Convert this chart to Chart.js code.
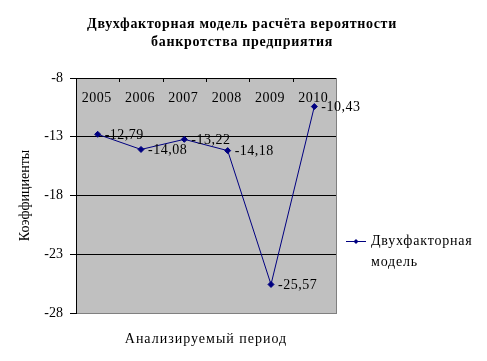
<!DOCTYPE html>
<html>
<head>
<meta charset="utf-8">
<script src="https://cdn.jsdelivr.net/npm/chart.js@4.4.1/dist/chart.umd.min.js"></script>
<style>
  html, body { margin: 0; padding: 0; background: #fff; }
  #wrap { width: 487px; height: 361px; }
</style>
</head>
<body>
<div id="wrap"><canvas id="myChart" width="487" height="361"></canvas></div>
<script>
const years = ['2005', '2006', '2007', '2008', '2009', '2010'];
const values = [-12.79, -14.08, -13.22, -14.18, -25.57, -10.43];
const yTicks = [-8, -13, -18, -23, -28];
const titleLines = ['Двухфакторная модель расчёта вероятности', 'банкротства предприятия'];
const seriesName = ['Двухфакторная', 'модель'];

const FONT = '"Liberation Serif", "Times New Roman", serif';
const NAVY = '#000080';

const extras = {
    id: 'extras',
    beforeDraw(chart) {
        const a = chart.chartArea;
        const ctx = chart.ctx;
        ctx.save();
        ctx.fillStyle = '#c0c0c0';
        ctx.fillRect(a.left, a.top, a.right - a.left, a.bottom - a.top);
        ctx.restore();
    },
    afterDraw(chart) {
        const a = chart.chartArea;
        const ctx = chart.ctx;
        const x = chart.scales.x;
        ctx.save();
        // right border
        ctx.strokeStyle = '#808080';
        ctx.lineWidth = 1;
        ctx.beginPath();
        ctx.moveTo(a.right + 0.5, a.top);
        ctx.lineTo(a.right + 0.5, a.bottom);
        ctx.stroke();
        // category axis at the top
        ctx.strokeStyle = '#000';
        ctx.beginPath();
        ctx.moveTo(a.left, a.top + 0.5);
        ctx.lineTo(a.right, a.top + 0.5);
        const step = (a.right - a.left) / years.length;
        for (let i = 1; i < years.length; i++) {
            const px = Math.round(a.left + i * step) + 0.5;
            ctx.moveTo(px, a.top);
            ctx.lineTo(px, a.top + 4);
        }
        ctx.stroke();
        ctx.fillStyle = '#000';
        ctx.font = '14px ' + FONT;
        ctx.letterSpacing = '0.5px';
        ctx.textAlign = 'center';
        ctx.textBaseline = 'middle';
        years.forEach((y, i) => {
            ctx.fillText(y, x.getPixelForValue(i) - 1, a.top + 20);
        });
        // data labels
        const meta = chart.getDatasetMeta(0);
        ctx.textAlign = 'left';
        meta.data.forEach((p, i) => {
            const t = values[i].toFixed(2).replace('.', ',');
            ctx.fillText(t, p.x + 7, p.y + 1);
        });
        // title
        ctx.font = 'bold 14px ' + FONT;
        ctx.letterSpacing = '0.7px';
        ctx.textAlign = 'center';
        ctx.fillText(titleLines[0], 242, 24);
        ctx.fillText(titleLines[1], 242, 42);
        // x axis title
        ctx.font = '14px ' + FONT;
        ctx.letterSpacing = '1px';
        ctx.fillText('Анализируемый период', (a.left + a.right) / 2, 339);
        // legend
        ctx.strokeStyle = NAVY;
        ctx.beginPath();
        ctx.moveTo(346, 241.5);
        ctx.lineTo(366, 241.5);
        ctx.stroke();
        ctx.fillStyle = NAVY;
        ctx.beginPath();
        ctx.moveTo(356, 239);
        ctx.lineTo(358.5, 241.5);
        ctx.lineTo(356, 244);
        ctx.lineTo(353.5, 241.5);
        ctx.closePath();
        ctx.fill();
        ctx.fillStyle = '#000';
        ctx.textAlign = 'left';
        ctx.letterSpacing = '0.8px';
        ctx.fillText(seriesName[0], 371, 241);
        ctx.fillText(seriesName[1], 371, 262);
        ctx.restore();
    }
};

const data = {
    labels: years,
    datasets: [{
        label: seriesName.join(' '),
        data: values,
        borderColor: NAVY,
        backgroundColor: NAVY,
        borderWidth: 1,
        pointStyle: 'rectRot',
        pointRadius: 3,
        pointHoverRadius: 3,
        tension: 0
    }]
};

const config = {
    type: 'line',
    data: data,
    plugins: [extras],
    options: {
        responsive: false,
        animation: false,
        events: [],
        layout: { padding: { top: 78, left: 0, right: 151, bottom: 0 } },
        plugins: {
            legend: { display: false },
            tooltip: { enabled: false },
            title: { display: false }
        },
        scales: {
            x: {
                type: 'category',
                offset: true,
                grid: { display: false, drawTicks: false },
                border: { color: '#808080' },
                ticks: { display: false },
                afterFit(scale) { scale.height = 48; }
            },
            y: {
                min: -28,
                max: -8,
                afterBuildTicks(scale) { scale.ticks = yTicks.map(v => ({ value: v })); },
                grid: {
                    color: ctx => (ctx.tick && ctx.tick.value === -28) ? 'rgba(0,0,0,0)' : '#000',
                    tickColor: '#000',
                    tickLength: 6,
                    lineWidth: 1
                },
                border: { color: '#000' },
                ticks: {
                    color: '#000',
                    font: { family: FONT, size: 14 },
                    padding: 7
                },
                title: {
                    display: true,
                    text: 'Коэффициенты',
                    color: '#000',
                    font: { family: FONT, size: 14 },
                    padding: { top: 17, bottom: 0 }
                },
                afterFit(scale) { scale.width = 76; }
            }
        }
    }
};
// eslint-disable-next-line
const myChart = new Chart(document.getElementById('myChart'), config);
</script>
</body>
</html>
